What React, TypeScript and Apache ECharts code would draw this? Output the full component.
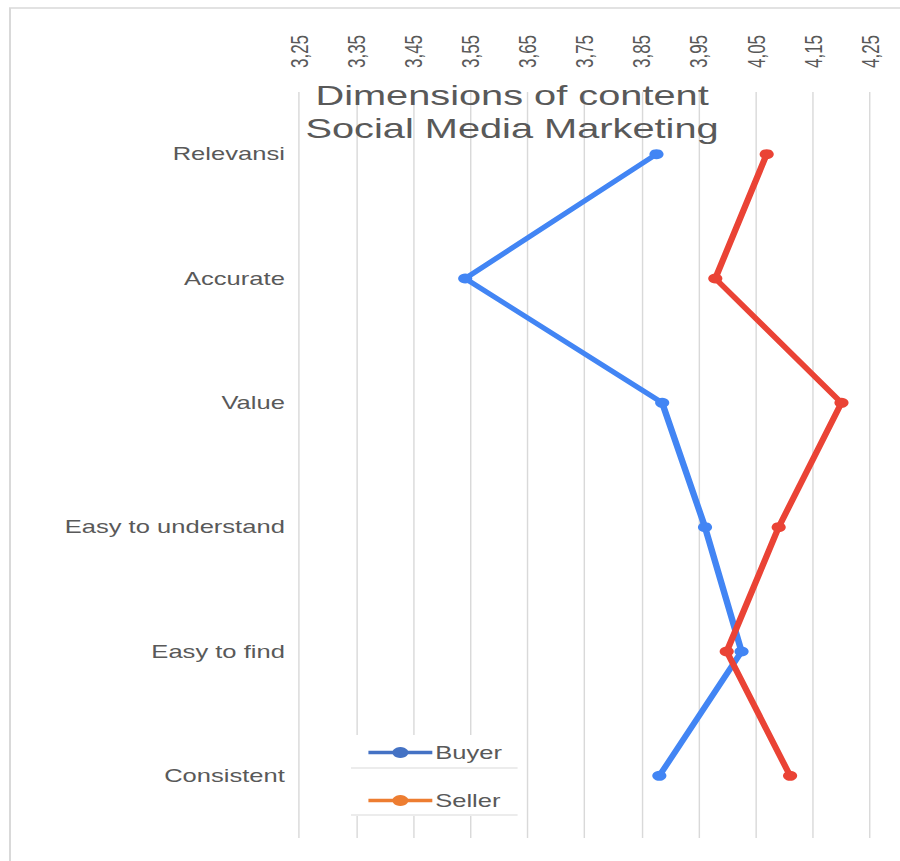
import React, { useEffect, useRef } from 'react';
import * as echarts from 'echarts';

const categories = ['Relevansi', 'Accurate', 'Value', 'Easy to understand', 'Easy to find', 'Consistent'];
const buyerValues = [3.876, 3.541, 3.886, 3.961, 4.025, 3.881];
const sellerValues = [4.069, 3.979, 4.2, 4.09, 3.999, 4.11];
const axisMin = 3.25;
const axisMax = 4.25;
const axisStep = 0.1;
const titleText = 'Dimensions of content\nSocial Media Marketing';

// The reference image is stretched horizontally; reproduce with a horizontal scale.
const SX = 1.42;
const W = 634;
const H = 861;
const FONT = '"Liberation Sans", Arial, sans-serif';
const GRAY = '#595959';

export default function App() {
  const ref = useRef<HTMLDivElement>(null);
  useEffect(() => {
    if (!ref.current) return;
    const chart = echarts.init(ref.current, null, { renderer: 'svg' });
    const shift = (v: number) => +(v - axisMin).toFixed(4);
    chart.setOption({
      animation: false,
      backgroundColor: '#ffffff',
      grid: { left: 210.6, right: 21.3, top: 92, bottom: 23, containLabel: false },
      xAxis: {
        type: 'value',
        position: 'top',
        min: 0,
        max: +(axisMax - axisMin).toFixed(4),
        interval: axisStep,
        axisLine: { show: false },
        axisTick: { show: false },
        splitLine: { show: true, lineStyle: { color: '#d9d9d9', width: 1 } },
        axisLabel: {
          rotate: -90,
          margin: 24,
          color: GRAY,
          fontSize: 17,
          fontFamily: FONT,
          formatter: (v: number) => (v + axisMin).toFixed(2).replace('.', ','),
        },
      },
      yAxis: {
        type: 'category',
        inverse: true,
        data: categories,
        axisLine: { show: false },
        axisTick: { show: false },
        splitLine: { show: false },
        axisLabel: { color: GRAY, fontSize: 18, fontFamily: FONT, margin: 10 },
      },
      legend: {
        orient: 'vertical',
        left: 257.7,
        top: 743.5,
        padding: 0,
        itemWidth: 45,
        itemHeight: 14,
        itemGap: 30,
        textStyle: { color: GRAY, fontSize: 18, fontFamily: FONT, padding: [0, 0, 0, -3] },
        data: [
          { name: 'Buyer', itemStyle: { color: '#4472C4' }, lineStyle: { color: '#4472C4', width: 3.5 } },
          { name: 'Seller', itemStyle: { color: '#ED7D31' }, lineStyle: { color: '#ED7D31', width: 3.5 } },
        ],
      },
      graphic: [
        {
          type: 'rect',
          z: 0,
          silent: true,
          shape: { x: 7.04, y: 8, width: 2000, height: 2000 },
          style: { fill: 'none', stroke: '#d9d9d9', lineWidth: 1.4 },
        },
        {
          type: 'rect',
          z: 3,
          silent: true,
          shape: { x: 247.2, y: 735, width: 117, height: 81 },
          style: { fill: '#ffffff' },
        },
        {
          type: 'line',
          z: 5,
          silent: true,
          shape: { x1: 247.2, y1: 768, x2: 364.5, y2: 768 },
          style: { stroke: '#d9d9d9', lineWidth: 1 },
        },
        {
          type: 'line',
          z: 5,
          silent: true,
          shape: { x1: 247.2, y1: 815, x2: 364.5, y2: 815 },
          style: { stroke: '#d9d9d9', lineWidth: 1 },
        },
        {
          type: 'text',
          z: 6,
          x: 360.6,
          y: 79,
          style: {
            text: titleText,
            align: 'center',
            verticalAlign: 'top',
            fontSize: 28,
            lineHeight: 33,
            fontFamily: FONT,
            fill: GRAY,
          },
        },
      ],
      series: [
        {
          name: 'Buyer',
          type: 'line',
          data: buyerValues.map(shift),
          symbol: 'circle',
          symbolSize: 10,
          itemStyle: { color: '#4285F4' },
          lineStyle: { color: '#4285F4', width: 4.6 },
          z: 2,
        },
        {
          name: 'Seller',
          type: 'line',
          data: sellerValues.map(shift),
          symbol: 'circle',
          symbolSize: 10,
          itemStyle: { color: '#EA4335' },
          lineStyle: { color: '#EA4335', width: 4.6 },
          z: 2,
        },
      ],
    });
    return () => chart.dispose();
  }, []);

  return (
    <div
      ref={ref}
      style={{
        position: 'absolute',
        left: 0,
        top: 0,
        width: W,
        height: H,
        transform: `scaleX(${SX})`,
        transformOrigin: '0 0',
      }}
    />
  );
}
